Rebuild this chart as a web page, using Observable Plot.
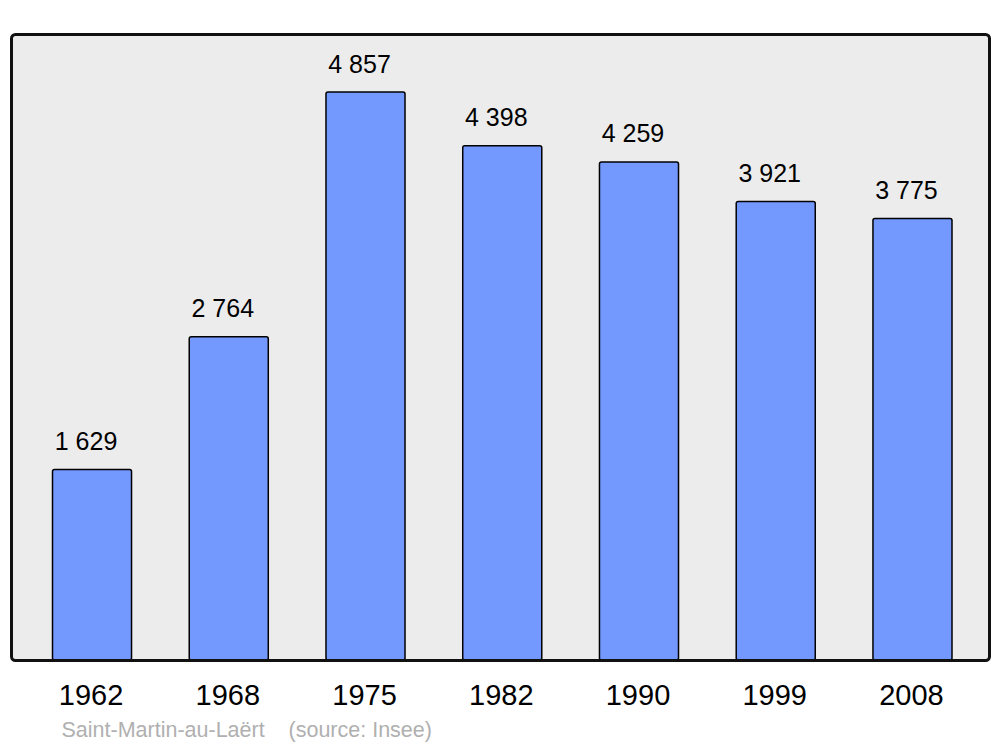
<!DOCTYPE html>
<html>
<head>
<meta charset="utf-8">
<script src="https://cdn.jsdelivr.net/npm/d3@7"></script>
<script src="https://cdn.jsdelivr.net/npm/@observablehq/plot@0.6"></script>
<style>
  html, body { margin: 0; padding: 0; background: #fff; }
  #chart svg { display: block; }
</style>
</head>
<body>
<div id="chart"></div>
<script>
const years = ["1962", "1968", "1975", "1982", "1990", "1999", "2008"];
const population = [1629, 2764, 4857, 4398, 4259, 3921, 3775];
const caption = "Saint-Martin-au-Laërt\u00a0\u00a0\u00a0 (source: Insee)";

const data = years.map((y, i) => ({year: y, pop: population[i]}));
const fmt = d3.formatLocale({thousands: " ", grouping: [3], decimal: ","}).format(",");
const font = "Liberation Sans, Arial, sans-serif";

const chart = Plot.plot({
  width: 1000,
  height: 747,
  marginLeft: 11,
  marginRight: 11,
  marginTop: 34,
  marginBottom: 87,
  style: {fontFamily: font, background: "#fff"},
  x: {domain: years, range: [52.5, 952], paddingInner: 0.422, paddingOuter: 0, round: false, axis: null},
  y: {domain: [0, 5353], axis: null},
  marks: [
    Plot.frame({fill: "#ececec", stroke: "none", rx: 4}),
    Plot.barY(data, {x: "year", y: "pop", fill: "#7399ff", stroke: "#000", strokeWidth: 1.5, rx: 2}),
    Plot.frame({fill: "none", stroke: "#111", strokeWidth: 3, rx: 4}),
    Plot.text(data, {x: "year", y: "pop", text: d => fmt(d.pop), dy: -20, dx: -6.5, lineAnchor: "bottom", fontSize: 25, fill: "#000"}),
    Plot.text(data, {x: "year", text: "year", frameAnchor: "bottom", dy: 44, dx: -1.5, lineAnchor: "bottom", fontSize: 29, fill: "#000"}),
    Plot.text([caption], {text: d => d, frameAnchor: "bottom-left", dx: 50, dy: 76, lineAnchor: "bottom", textAnchor: "start", fontSize: 21.5, fill: "#b0b0b0"})
  ]
});
document.getElementById("chart").appendChild(chart);
</script>
</body>
</html>
